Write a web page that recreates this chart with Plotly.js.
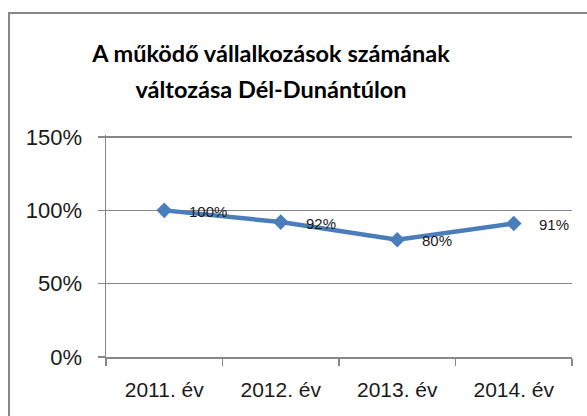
<!DOCTYPE html>
<html>
<head>
<meta charset="utf-8">
<script src="https://cdn.plot.ly/plotly-3.0.1.min.js"></script>
<style>
  html, body { margin: 0; padding: 0; background: #ffffff; overflow: hidden; }
  #frame { position: absolute; left: 8px; top: 12px; width: 700px; height: 500px;
           border: 2px solid #878787; box-sizing: border-box; }
  #chart { position: absolute; left: 0; top: 0; width: 587px; height: 416px; }
</style>
</head>
<body>
<div id="frame"></div>
<div id="chart"></div>
<script>
const categories = ['2011. év', '2012. év', '2013. év', '2014. év'];
const values = [1.00, 0.92, 0.80, 0.91];
const valueLabels = ['100%', '92%', '80%', '91%'];
const yTickValues = [0, 0.5, 1.0, 1.5];
const titleLines = ['A működő vállalkozások számának', 'változása Dél-Dunántúlon'];

const lineColor = '#4a7ebb';
const gridColor = '#878787';
const textColor = '#1a1a1a';
const tickFont = 'Liberation Sans, Arial, sans-serif';

const trace = {
  type: 'scatter',
  mode: 'lines+markers',
  x: categories,
  y: values,
  line: { color: lineColor, width: 4.5 },
  marker: { symbol: 'diamond', size: 12, color: lineColor },
  hoverinfo: 'skip',
  cliponaxis: false
};

const annotations = categories.map((c, i) => ({
  x: c, y: values[i], xref: 'x', yref: 'y',
  text: valueLabels[i], showarrow: false,
  xanchor: 'left', yanchor: 'middle', xshift: 23, yshift: -1,
  font: { family: tickFont, size: 15, color: textColor }
}));

const layout = {
  width: 587, height: 416,
  paper_bgcolor: 'rgba(0,0,0,0)',
  plot_bgcolor: 'rgba(0,0,0,0)',
  margin: { l: 106, r: 15, t: 135, b: 59 },
  showlegend: false,
  title: {
    text: titleLines.map(t => '<span style="font-size:23.5px">' + t + '</span>').join('<br>'),
    font: { family: 'Lato, Liberation Sans, sans-serif', size: 27, color: '#000000', weight: 'bold' },
    x: 0.4617, xanchor: 'center', xref: 'container',
    y: 0.85, yanchor: 'top', yref: 'container'
  },
  xaxis: {
    type: 'category',
    range: [-0.5, 3.5],
    tickson: 'boundaries',
    ticks: 'outside', ticklen: 7, tickwidth: 1.5, tickcolor: gridColor,
    showline: true, linecolor: gridColor, linewidth: 1.5,
    showgrid: false, zeroline: false,
    tickfont: { family: tickFont, size: 21, color: textColor },
    ticklabelstandoff: 13
  },
  yaxis: {
    range: [0, 1.514],
    tickvals: yTickValues,
    tickformat: '.0%',
    ticks: 'outside', ticklen: 7, tickwidth: 1.5, tickcolor: gridColor,
    showline: true, linecolor: gridColor, linewidth: 1.5,
    showgrid: true, gridcolor: gridColor, gridwidth: 1.5,
    zeroline: false,
    tickfont: { family: tickFont, size: 22, color: textColor },
    ticklabelstandoff: 11
  },
  annotations: annotations
};

Plotly.newPlot('chart', [trace], layout, { staticPlot: true, displayModeBar: false });
</script>
</body>
</html>
